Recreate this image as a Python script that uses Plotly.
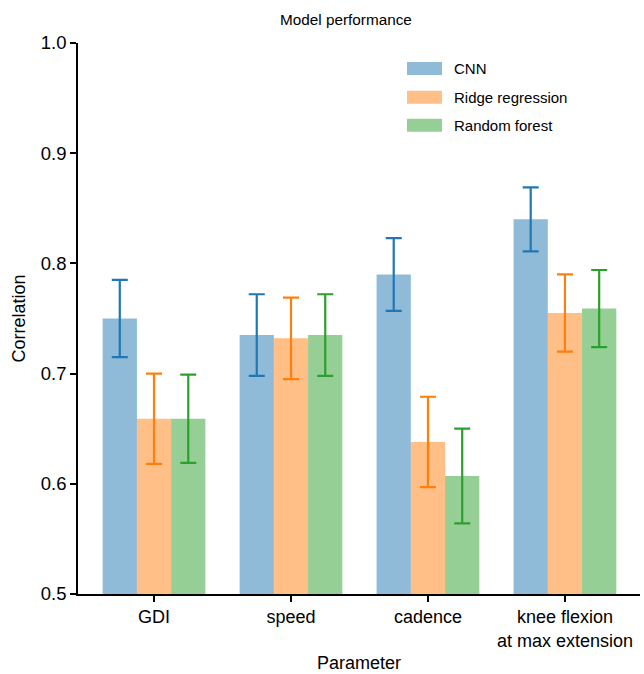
import plotly.graph_objects as go

categories = ["GDI", "speed", "cadence", "knee flexion<br>at max extension"]
series_names = ["CNN", "Ridge regression", "Random forest"]
cnn_vals = [0.750, 0.735, 0.790, 0.840]
cnn_err = [0.035, 0.037, 0.033, 0.029]
ridge_vals = [0.659, 0.732, 0.638, 0.755]
ridge_err = [0.041, 0.037, 0.041, 0.035]
rf_vals = [0.659, 0.735, 0.607, 0.759]
rf_err = [0.040, 0.037, 0.043, 0.035]
y_ticks = [0.5, 0.6, 0.7, 0.8, 0.9, 1.0]

line_colors = ["#1f77b4", "#ff7f0e", "#2ca02c"]
fill_colors = ["rgba(31,119,180,0.5)", "rgba(255,127,14,0.5)", "rgba(44,160,44,0.5)"]

FONT = "Liberation Sans, Arial, Helvetica, sans-serif"

fig = go.Figure()
xs = list(range(len(categories)))
for name, vals, errs, lc, fc in zip(series_names, [cnn_vals, ridge_vals, rf_vals],
                                     [cnn_err, ridge_err, rf_err], line_colors, fill_colors):
    fig.add_trace(go.Bar(
        x=xs, y=vals, name=name,
        marker=dict(color=fc, line=dict(width=0)),
        error_y=dict(type="data", array=errs, visible=True, color=lc, thickness=2.2, width=8),
        showlegend=False,
    ))

# custom legend with wide swatches
L, R, T, B = 78, 640, 43, 596
W, H = R - L, B - T
def px(x):
    return (x - L) / W
def py(y):
    return (B - y) / H
legend_y = [68.5, 97.5, 125.5]
for name, fc, yc in zip(series_names, fill_colors, legend_y):
    fig.add_shape(type="rect", xref="paper", yref="paper",
                  x0=px(407), x1=px(442), y0=py(yc + 6.5), y1=py(yc - 6.5),
                  fillcolor=fc, line=dict(width=0))
    fig.add_annotation(xref="paper", yref="paper", x=px(452), y=py(yc), text=name,
                       showarrow=False, xanchor="left", yanchor="middle",
                       font=dict(family=FONT, size=15, color="black"))

fig.update_layout(
    width=644, height=674,
    margin=dict(l=L, r=644 - R, t=T, b=674 - B),
    paper_bgcolor="white", plot_bgcolor="white",
    barmode="group", bargap=0.25, bargroupgap=0,
    font=dict(family=FONT, size=18, color="black"),
    title=dict(text="Model performance", x=(346 / 644), xanchor="center", y=1 - 20 / 674, yanchor="middle",
               font=dict(family=FONT, size=15.3, color="black")),
)
fig.update_xaxes(
    tickmode="array", tickvals=xs, ticktext=categories,
    range=[-0.555, 3.548],
    showline=True, linecolor="black", linewidth=1.5,
    ticks="outside", ticklen=6, tickwidth=1.5, tickcolor="black",
    showgrid=False, zeroline=False,
    title=dict(text="Parameter", standoff=7, font=dict(family=FONT, size=18)),
    tickfont=dict(family=FONT, size=18),
)
fig.update_yaxes(
    range=[0.5, 1.0], tickmode="array", tickvals=y_ticks,
    ticktext=[f"{v:.1f}" for v in y_ticks],
    showline=True, linecolor="black", linewidth=1.5,
    ticks="outside", ticklen=6, tickwidth=1.5, tickcolor="black",
    showgrid=False, zeroline=False,
    title=dict(text="Correlation", standoff=11, font=dict(family=FONT, size=18)),
    tickfont=dict(family=FONT, size=18.5),
)

fig.write_html("out.html")
